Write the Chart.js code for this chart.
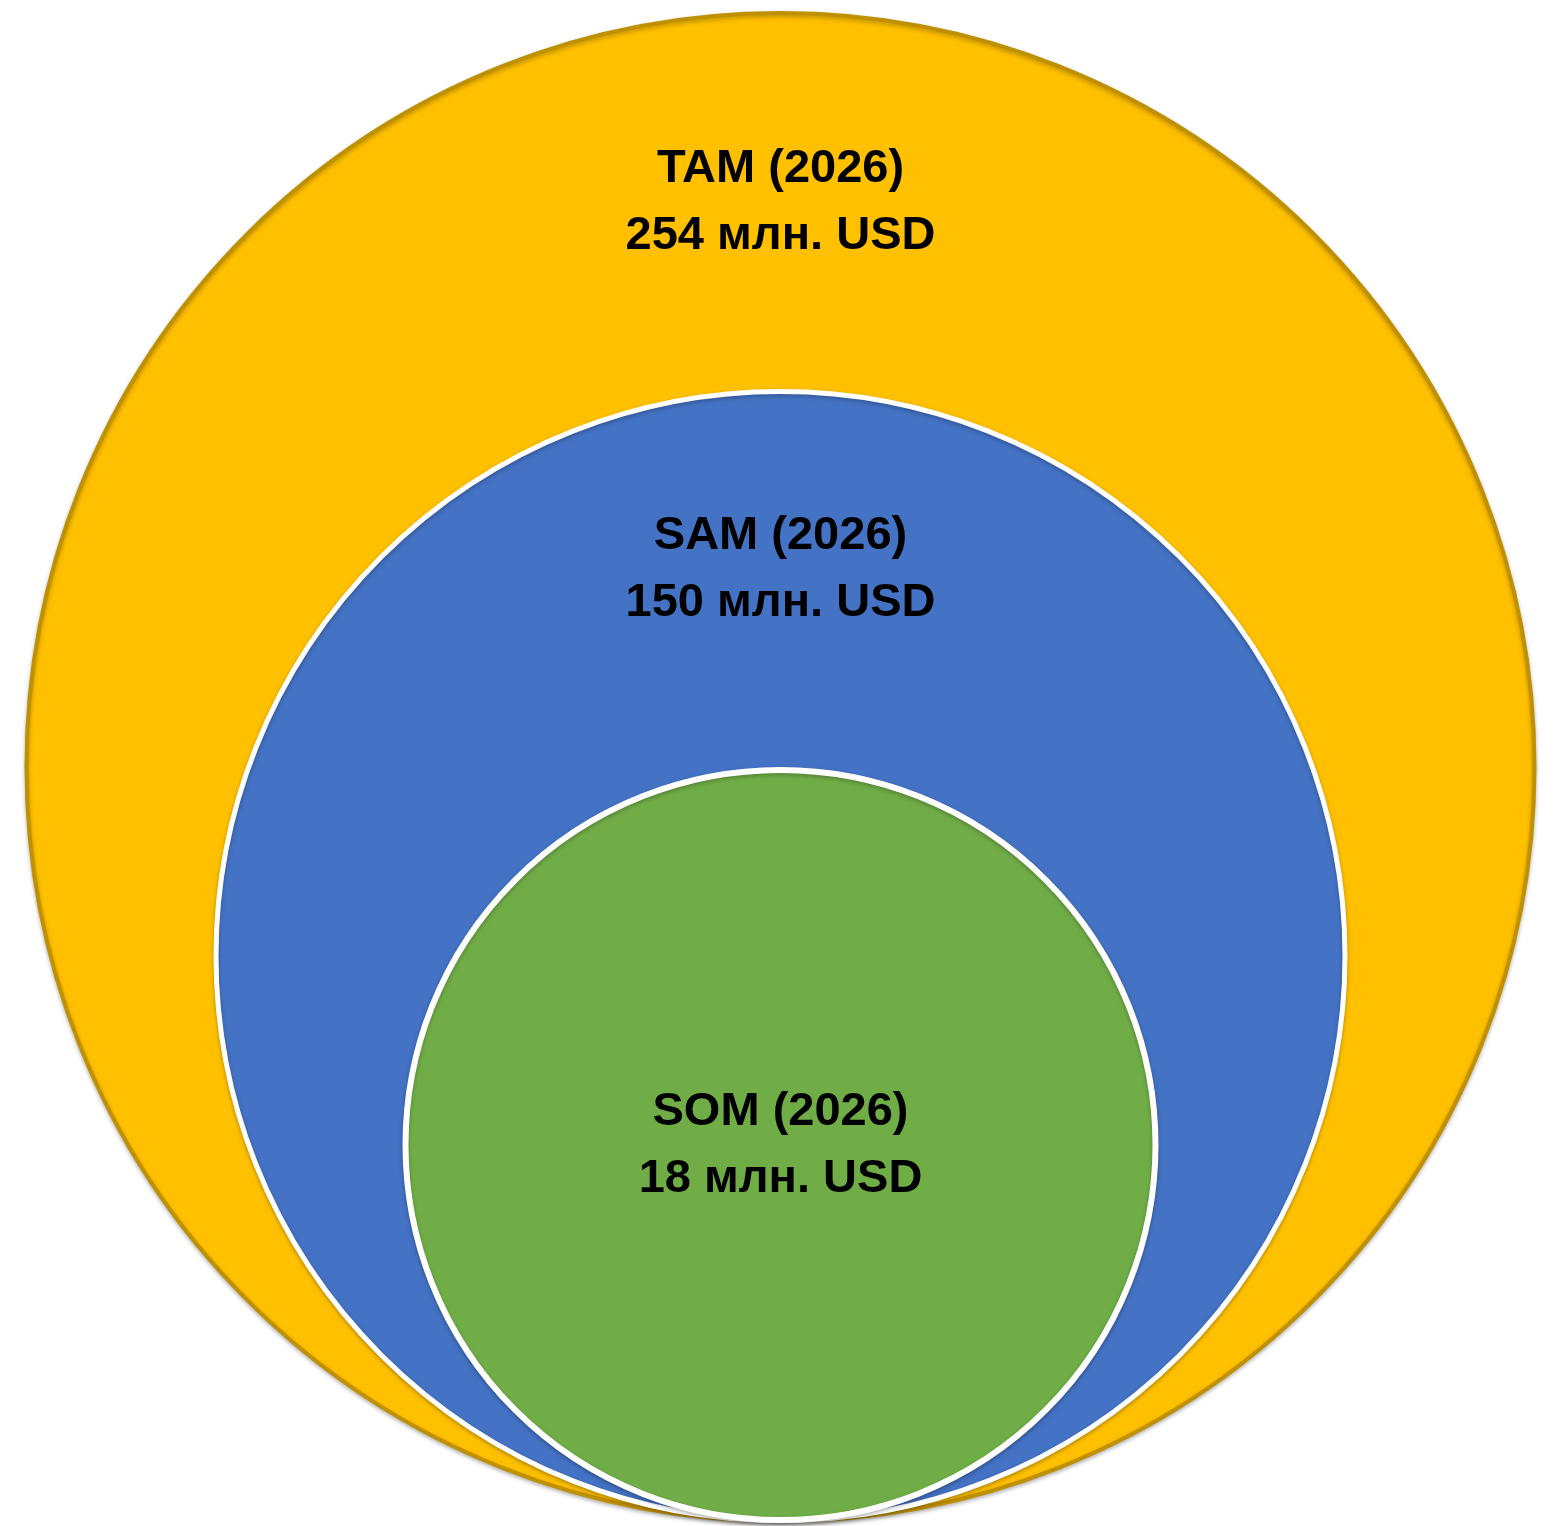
<!DOCTYPE html>
<html lang="ru">
  <head>
    <title>TAM SAM SOM</title>
    <meta charset="UTF-8" />
    <script src="https://cdn.jsdelivr.net/npm/chart.js"></script>
    <style>
      html, body { margin: 0; padding: 0; background: #fff; }
      #wrap { width: 1557px; height: 1526px; position: relative; }
    </style>
  </head>
  <body>
    <div id="wrap"><canvas id="chart"></canvas></div>
    <script>
      // данные
      const segments = ['TAM (2026)', 'SAM (2026)', 'SOM (2026)'];
      const marketValues = [254, 150, 18];
      const unitLabel = 'млн. USD';

      // оформление (вложенные круги, касаются снизу)
      const ringScale = [1, 0.75, 0.5];
      const fillColors = ['#FFC000', '#4472C4', '#70AD47'];
      const borderColors = ['#BF9000', '#FFFFFF', '#FFFFFF'];
      const borderWidths = [4, 5, 6];
      const labelY = [1.774, 1.288, 0.526]; // базовая линия первой строки, в единицах оси y
      const lineGap = 67;

      const points = segments.map((s, i) => ({ x: 0, y: ringScale[i] }));

      // радиус круга в пикселях по шкале y
      function ringRadius(c) {
        const y = c.chart.scales.y;
        const i = c.dataIndex;
        if (!y || i === undefined) return 0;
        const px = y.getPixelForValue(0) - y.getPixelForValue(ringScale[i]);
        return isFinite(px) ? px - borderWidths[i] / 2 : 0;
      }

      // лёгкая тень под кругами
      const shadowPlugin = {
        id: 'ringShadow',
        beforeDatasetDraw(chart) {
          const ctx = chart.ctx;
          ctx.save();
          ctx.shadowColor = 'rgba(0, 0, 0, 0.25)';
          ctx.shadowBlur = 4;
          ctx.shadowOffsetX = 0;
          ctx.shadowOffsetY = 2;
        },
        afterDatasetDraw(chart) {
          chart.ctx.restore();
        },
      };

      const labelPlugin = {
        id: 'circleLabels',
        afterDatasetsDraw(chart) {
          const { ctx, scales } = chart;
          ctx.save();
          ctx.shadowColor = 'rgba(0, 0, 0, 0)';
          ctx.shadowBlur = 0;
          ctx.fillStyle = '#000';
          ctx.font = 'bold 47px "Liberation Sans", Arial, sans-serif';
          ctx.textAlign = 'center';
          ctx.textBaseline = 'alphabetic';
          segments.forEach((s, i) => {
            const x = scales.x.getPixelForValue(0);
            const y = scales.y.getPixelForValue(labelY[i]);
            ctx.fillText(s, x, y);
            ctx.fillText(marketValues[i] + ' ' + unitLabel, x, y + lineGap);
          });
          ctx.restore();
        },
      };

      const ctx = document.getElementById('chart').getContext('2d');
      const chart = new Chart(ctx, {
        type: 'scatter',
        data: {
          labels: segments,
          datasets: [
            {
              data: points,
              pointBackgroundColor: fillColors,
              pointBorderColor: borderColors,
              pointBorderWidth: borderWidths,
              pointRadius: ringRadius,
              pointHoverRadius: ringRadius,
              clip: false,
            },
          ],
        },
        options: {
          responsive: true,
          maintainAspectRatio: false,
          animation: false,
          events: [],
          layout: { padding: { left: 25, right: 21, top: 11, bottom: 3 } },
          plugins: {
            legend: { display: false },
            tooltip: { enabled: false },
          },
          scales: {
            x: { type: 'linear', min: -1, max: 1, display: false },
            y: { type: 'linear', min: 0, max: 2, display: false },
          },
        },
        plugins: [shadowPlugin, labelPlugin],
      });
    </script>
  </body>
</html>
